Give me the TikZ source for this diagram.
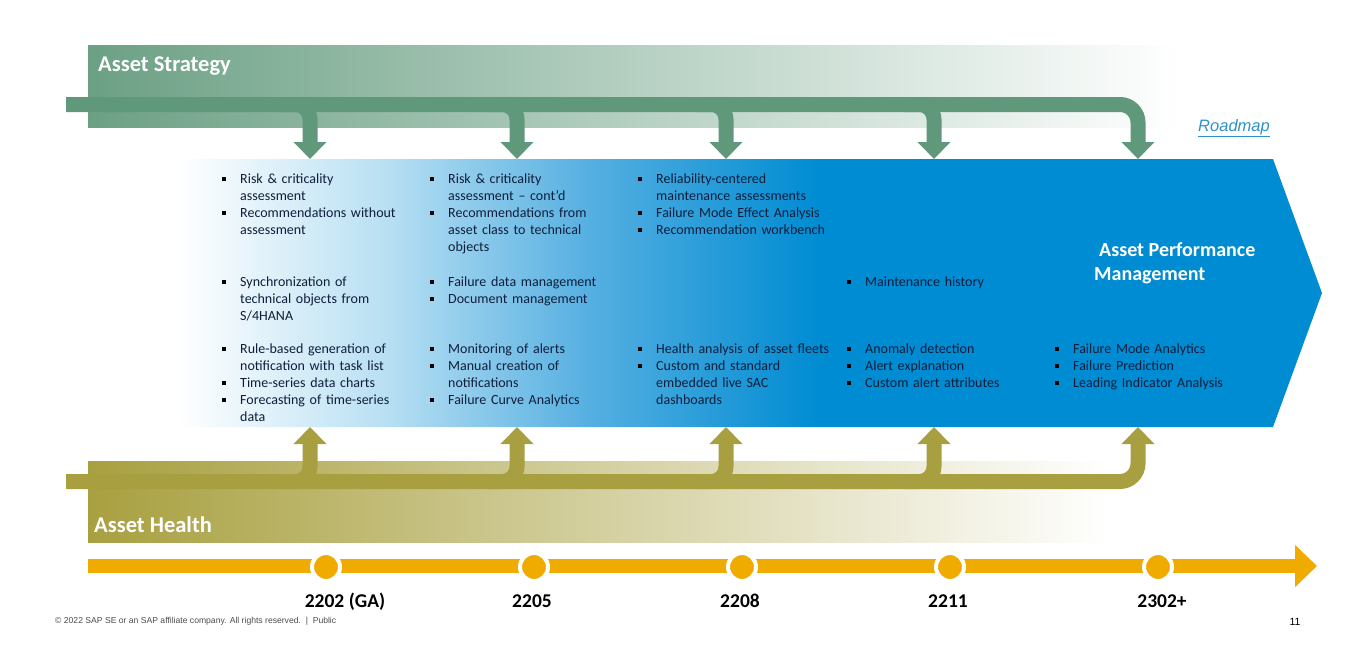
\documentclass[tikz,border=0pt]{standalone}
\usepackage{fontspec}
\setmainfont{Carlito}
\newfontfamily\arialfont{Liberation Sans}
\usepackage{xcolor}
\usetikzlibrary{arrows.meta,positioning,calc}
\definecolor{stratgreen}{RGB}{95,152,122}
\definecolor{healtholive}{RGB}{168,160,64}
\definecolor{apmblue}{RGB}{0,140,210}
\definecolor{apmmid}{RGB}{85,175,225}
\definecolor{apmlight}{RGB}{185,224,243}
\definecolor{sapgold}{RGB}{240,171,0}
\definecolor{featink}{RGB}{15,30,60}
\definecolor{linkblue}{RGB}{45,145,205}
\pgfdeclarehorizontalshading{apmfade}{100bp}{color(0bp)=(white); color(25bp)=(white); color(34bp)=(apmlight); color(43bp)=(apmmid); color(53bp)=(apmblue); color(100bp)=(apmblue)}
\newcommand\itm{\par\hangindent=18pt\hangafter=1\noindent\rule{0pt}{12pt}\makebox[18pt][l]{\raisebox{2.5pt}{\color{black}\rule{3.5pt}{3.5pt}}}}

\begin{document}
\begin{tikzpicture}[x=1pt, y=-1pt, >=Latex,
 feat/.style={anchor=north west, inner sep=0pt, text width=200pt, align=left, text=featink, font=\fontsize{14}{17}\selectfont},
 bandtitle/.style={anchor=base west, inner sep=0pt, text=white, font=\bfseries\fontsize{22.5}{27}\selectfont},
 apmtitle/.style={anchor=base west, inner sep=0pt, text=white, font=\bfseries\fontsize{20}{24}\selectfont},
 stratline/.style={draw=stratgreen, line width=15pt, -{Triangle[width=32pt,length=17pt]}},
 healthline/.style={draw=healtholive, line width=15pt, -{Triangle[width=32pt,length=17pt]}},
 timeline/.style={draw=sapgold, line width=14pt, -{Triangle[width=41pt,length=22pt]}},
 milestone/.style={circle, fill=sapgold, draw=white, line width=4pt, minimum size=28pt, inner sep=0pt},
 yearlbl/.style={anchor=base, inner sep=0pt, font=\bfseries\fontsize{19.5}{23}\selectfont}]
\useasboundingbox (0,0) rectangle (1349,645);
\shade[left color=stratgreen!92!white, right color=white] (88,45) rectangle (1180,127);
\shade[left color=healtholive, right color=white] (88,461) rectangle (1110,542);
\shade[shading=apmfade] (178,159) -- (1273,159) -- (1322,293) -- (1273,427) -- (178,427) -- cycle;
\node[bandtitle] (strat) at (98,71) {Asset Strategy};
\node[bandtitle] (health) at (94,532) {Asset Health};
\node[apmtitle] (apm1) at (1099,256) {Asset Performance};
\node[apmtitle] (apm2) at (1094,280) {Management};
\node[inner sep=0pt, text=linkblue, font=\arialfont\itshape\fontsize{16.5}{20}\selectfont] (roadmap) at (1234,128) {\underline{Roadmap}};

\foreach \x [count=\i] in {310,517,726,934,1138} {
  \coordinate (sb\i) at (\x,104.5);
  \coordinate (ct\i) at (\x,159);
  \coordinate (hb\i) at (\x,481.5);
  \coordinate (cb\i) at (\x,427);
}
\draw[stratline, rounded corners=18] (66,104.5) -- (sb5) -- (ct5);
\draw[healthline, rounded corners=18] (66,481.5) -- (hb5) -- (cb5);
\foreach \i in {1,...,4} {
  \draw[stratline, rounded corners=15] ($(sb\i)+(-30,0)$) -- (sb\i) -- (ct\i);
  \draw[healthline, rounded corners=15] ($(hb\i)+(-30,0)$) -- (hb\i) -- (cb\i);
}

\node[feat] (c1r1) at (222,166) {\itm Risk \& criticality\newline assessment
 \itm Recommendations without\newline assessment\par};
\node[feat] (c1r2) at (222,269) {\itm Synchronization of\newline technical objects from\newline S/4HANA\par};
\node[feat] (c1r3) at (222,336) {\itm Rule-based generation of\newline notification with task list
 \itm Time-series data charts
 \itm Forecasting of time-series\newline data\par};
\node[feat] (c2r1) at (430,166) {\itm Risk \& criticality\newline assessment – cont’d
 \itm Recommendations from\newline asset class to technical\newline objects\par};
\node[feat] (c2r2) at (430,269) {\itm Failure data management
 \itm Document management\par};
\node[feat] (c2r3) at (430,336) {\itm Monitoring of alerts
 \itm Manual creation of\newline notifications
 \itm Failure Curve Analytics\par};
\node[feat] (c3r1) at (638,166) {\itm Reliability-centered\newline maintenance assessments
 \itm Failure Mode Effect Analysis
 \itm Recommendation workbench\par};
\node[feat] (c3r3) at (638,336) {\itm Health analysis of asset fleets
 \itm Custom and standard\newline embedded live SAC\newline dashboards\par};
\node[feat] (c4r2) at (847,269) {\itm Maintenance history\par};
\node[feat] (c4r3) at (847,336) {\itm Anomaly detection
 \itm Alert explanation
 \itm Custom alert attributes\par};
\node[feat] (c5r3) at (1055,336) {\itm Failure Mode Analytics
 \itm Failure Prediction
 \itm Leading Indicator Analysis\par};

\coordinate (tl0) at (88,566);
\coordinate (tl1) at (1317,566);
\draw[timeline] (tl0) -- (tl1);
\foreach \x/\lx/\yr [count=\i] in {326/345/2202 (GA), 534/532/2205, 742/740/2208, 950/948/2211, 1158/1162/2302+} {
  \node[milestone] (m\i) at (\x,567) {};
  \node[yearlbl] (y\i) at (\lx,607) {\yr};
}

\node[anchor=west, inner sep=0pt, text=black!70, font=\arialfont\fontsize{8.6}{10}\selectfont] (copy) at (55,621) {© 2022 SAP SE or an SAP affiliate company. All rights reserved.\ \ |\ \ Public};
\node[inner sep=0pt, font=\arialfont\fontsize{10.5}{12}\selectfont] (page) at (1295,622) {11};
\end{tikzpicture}
\end{document}
